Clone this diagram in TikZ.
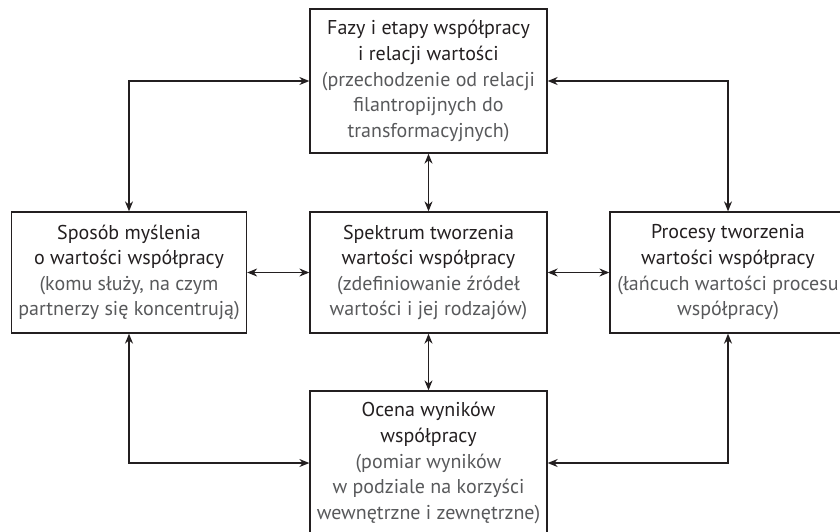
\documentclass[tikz,border=0pt]{standalone}
\usepackage{fontspec}
\setmainfont{PT Sans}
\usetikzlibrary{arrows.meta}
\definecolor{ink}{HTML}{231F20}
\definecolor{sub}{HTML}{58595B}
\tikzset{
  box/.style={draw=ink, line width=1.3pt, rectangle, minimum width=237pt, align=center,
    inner sep=0pt, font=\fontsize{20}{25.6}\selectfont},
  link/.style={draw=ink, line width=1.2pt, {Stealth[length=10pt,width=8pt]}-{Stealth[length=10pt,width=8pt]}},
}
\newcommand{\ttl}[1]{\textcolor{ink}{#1}}
\newcommand{\sbt}[1]{\textcolor{sub}{#1}}
\begin{document}
\begin{tikzpicture}[x=1pt,y=-1pt]
\path[use as bounding box, clip] (0,0) rectangle (840,531);
\node[box, minimum height=144pt] (top) at (428.5,81) {\ttl{Fazy i etapy współpracy}\\\ttl{i relacji wartości}\\\sbt{(przechodzenie od relacji}\\\sbt{filantropijnych do}\\\sbt{transformacyjnych)}};
\node[box, minimum width=235pt, minimum height=121pt] (left) at (129,272.5) {\ttl{Sposób myślenia}\\\ttl{o wartości współpracy}\\\sbt{(komu służy, na czym}\\\sbt{partnerzy się koncentrują)}};
\node[box, minimum height=121pt] (center) at (428.5,272.5) {\ttl{Spektrum tworzenia}\\\ttl{wartości współpracy}\\\sbt{(zdefiniowanie źródeł}\\\sbt{wartości i jej rodzajów)}};
\node[box, minimum width=236pt, minimum height=121pt] (right) at (728,272.5) {\ttl{Procesy tworzenia}\\\ttl{wartości współpracy}\\\sbt{(łańcuch wartości procesu}\\\sbt{współpracy)}};
\node[box, minimum height=144pt] (bottom) at (428.5,463) {\ttl{Ocena wyników}\\\ttl{współpracy}\\\sbt{(pomiar wyników}\\\sbt{w podziale na korzyści}\\\sbt{wewnętrzne i zewnętrzne)}};
\draw[link] (left.north) |- (top.west);
\draw[link] (right.north) |- (top.east);
\draw[link] (left.south) |- (bottom.west);
\draw[link] (right.south) |- (bottom.east);
\draw[link] (left.east) -- (center.west);
\draw[link] (center.east) -- (right.west);
\draw[link] (top.south) -- (center.north);
\draw[link] (center.south) -- (bottom.north);
\end{tikzpicture}
\end{document}
